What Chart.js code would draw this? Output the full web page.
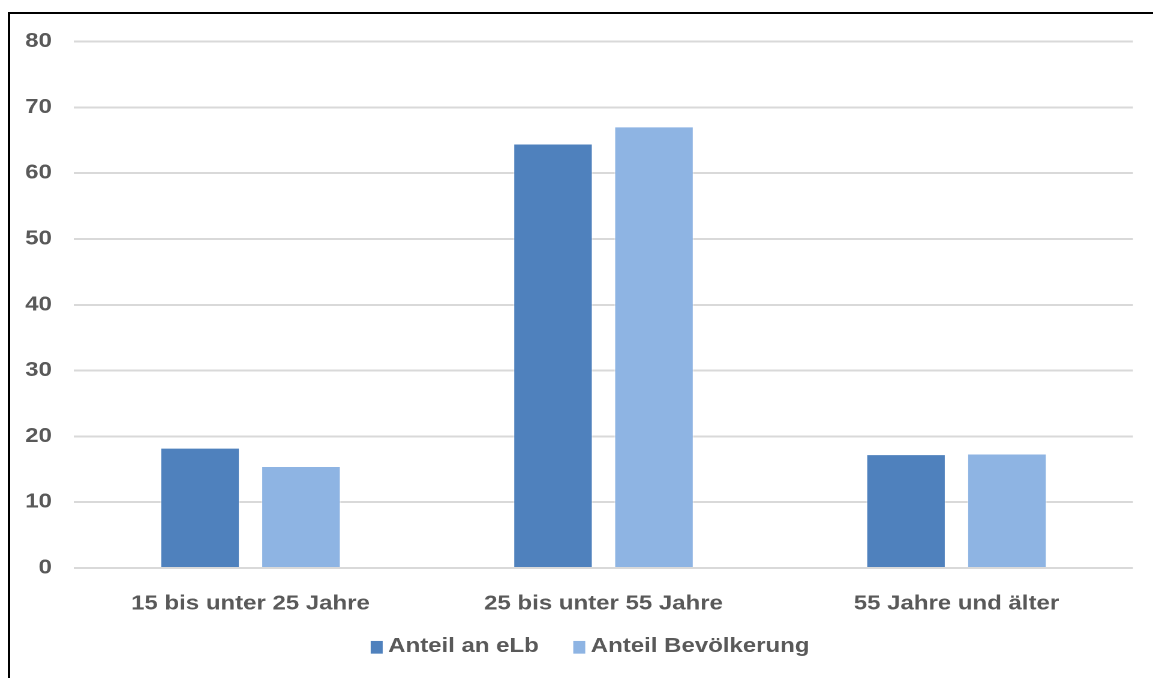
<!DOCTYPE html>
<html lang="de">
<head>
<meta charset="utf-8">
<title>Anteil an eLb und Bevölkerung nach Altersgruppen</title>
<script src="https://cdn.jsdelivr.net/npm/chart.js@4/dist/chart.umd.min.js"></script>
<style>
  html, body { margin: 0; padding: 0; background: #ffffff; }
  body { width: 1153px; height: 678px; position: relative; overflow: hidden; }
  /* frame around the chart (open to the right and bottom) */
  #frame {
    position: absolute; left: 8px; top: 12px; width: 1200px; height: 700px;
    border-left: 2px solid #000; border-top: 2px solid #000; box-sizing: border-box;
  }
  /* the chart is laid out narrow and widened horizontally */
  #wrap {
    position: absolute; left: 0; top: 0; width: 961px; height: 678px;
    transform: scaleX(1.19979); transform-origin: 0 0;
  }
</style>
</head>
<body>
<div id="frame"></div>
<div id="wrap"><canvas id="chart"></canvas></div>
<script>
// Age groups
const categories = ['15 bis unter 25 Jahre', '25 bis unter 55 Jahre', '55 Jahre und älter'];
// Share in percent
const anteilElb = [18.3, 64.5, 17.3];
const anteilBevoelkerung = [15.5, 67.1, 17.4];
const seriesLabels = ['Anteil an eLb', 'Anteil Bevölkerung'];
// Value axis
const yTicks = [0, 10, 20, 30, 40, 50, 60, 70, 80];

const FONT = { family: '"Liberation Sans", Arial, Helvetica, sans-serif', size: 20, weight: 'bold' };
const TEXT = '#595959';
const LEGEND_CENTER_X = 491.8;
const LEGEND_Y = 646.5;

// Legend row below the axis: small squares followed by the series names
const bottomLegend = {
  id: 'bottomLegend',
  afterDraw(chart) {
    const ctx = chart.ctx;
    ctx.save();
    ctx.font = `${FONT.weight} ${FONT.size}px ${FONT.family}`;
    ctx.textBaseline = 'middle';
    ctx.textAlign = 'left';
    const boxW = 10, boxH = 12.7, gapText = 4.6, gapItem = 28.7;
    const items = chart.data.datasets.map(ds => ({
      label: ds.label, color: ds.backgroundColor, w: ctx.measureText(ds.label).width
    }));
    const total = items.reduce((s, it) => s + boxW + gapText + it.w, 0) + gapItem * (items.length - 1);
    let x = LEGEND_CENTER_X - total / 2;
    items.forEach(it => {
      ctx.fillStyle = it.color;
      ctx.fillRect(x, LEGEND_Y + 0.8 - boxH / 2, boxW, boxH);
      x += boxW + gapText;
      ctx.fillStyle = TEXT;
      ctx.fillText(it.label, x, LEGEND_Y);
      x += it.w + gapItem;
    });
    ctx.restore();
  }
};

new Chart(document.getElementById('chart'), {
  type: 'bar',
  data: {
    labels: categories,
    datasets: [
      {
        label: seriesLabels[0], data: anteilElb,
        backgroundColor: '#4F81BD', borderColor: 'rgba(255,255,255,0.35)', borderWidth: 1,
        categoryPercentage: 0.572, barPercentage: 0.792
      },
      {
        label: seriesLabels[1], data: anteilBevoelkerung,
        backgroundColor: '#8EB4E3', borderColor: 'rgba(255,255,255,0.35)', borderWidth: 1,
        categoryPercentage: 0.572, barPercentage: 0.792
      }
    ]
  },
  options: {
    responsive: true,
    maintainAspectRatio: false,
    devicePixelRatio: 2,
    animation: false,
    layout: { padding: { left: 0, right: 16.7, top: 41.5, bottom: 52 } },
    plugins: {
      legend: { display: false },
      tooltip: { enabled: false }
    },
    scales: {
      x: {
        grid: { display: false },
        border: { display: false },
        ticks: { color: TEXT, font: FONT, padding: 16, maxRotation: 0 },
        afterFit(scale) { scale.height = 58; }
      },
      y: {
        min: 0, max: 80,
        afterBuildTicks(scale) { scale.ticks = yTicks.map(v => ({ value: v })); },
        grid: { color: '#D9D9D9', lineWidth: 2, drawTicks: false },
        border: { display: false },
        ticks: { color: TEXT, font: FONT, padding: 18.4 },
        afterFit(scale) { scale.width = 61.7; }
      }
    }
  },
  plugins: [bottomLegend]
});
</script>
</body>
</html>
